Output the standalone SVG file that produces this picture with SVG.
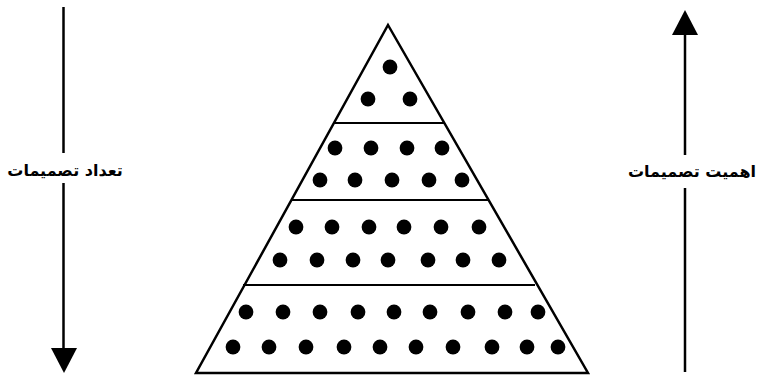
<svg xmlns="http://www.w3.org/2000/svg" width="762" height="380" viewBox="0 0 762 380">
<style>
.ln{stroke:#000;stroke-width:2.5;fill:none}
.dv{stroke:#000;stroke-width:2}
.d{fill:#000}
.lbl{font-family:"DejaVu Sans",sans-serif;font-size:16px;font-weight:bold;fill:#000;text-anchor:middle}
</style>
<defs>
<circle id="dot" r="7.4" class="d"/>
</defs>
<rect width="762" height="380" fill="#fff"/>
<g id="connectors">
<line class="ln" x1="63.5" y1="7" x2="63.5" y2="153"/>
<line class="ln" x1="63.5" y1="183" x2="63.5" y2="350"/>
<polygon points="51,348 77,348 64,373" fill="#000"/>
<line class="ln" x1="685" y1="33" x2="685" y2="155"/>
<line class="ln" x1="685" y1="188" x2="685" y2="372"/>
<polygon points="672,35 698,35 685,10" fill="#000"/>
</g>
<g id="label-left"><text class="lbl" x="65" y="176" direction="rtl" unicode-bidi="embed">تعداد تصمیمات</text></g>
<g id="label-right"><text class="lbl" x="692" y="177" direction="rtl" unicode-bidi="embed">اهمیت تصمیمات</text></g>
<g id="pyramid">
<polygon class="ln" points="388,25 588,373 196,373" stroke-linejoin="miter"/>
<line class="dv" x1="334" y1="123" x2="445" y2="123"/>
<line class="dv" x1="291" y1="200" x2="488" y2="200"/>
<line class="dv" x1="243" y1="285" x2="535" y2="285"/>
</g>
<g id="tier1">
<use href="#dot" x="390" y="67"/>
<use href="#dot" x="368" y="99"/>
<use href="#dot" x="410" y="99"/>
</g>
<g id="tier2">
<use href="#dot" x="335" y="148"/><use href="#dot" x="371" y="148"/><use href="#dot" x="407" y="148"/><use href="#dot" x="442" y="148"/>
<use href="#dot" x="320" y="180"/><use href="#dot" x="355" y="180"/><use href="#dot" x="392" y="180"/><use href="#dot" x="429" y="180"/><use href="#dot" x="462" y="180"/>
</g>
<g id="tier3">
<use href="#dot" x="296" y="227"/><use href="#dot" x="332" y="227"/><use href="#dot" x="369" y="227"/><use href="#dot" x="404" y="227"/><use href="#dot" x="441" y="227"/><use href="#dot" x="479" y="227"/>
<use href="#dot" x="280" y="260"/><use href="#dot" x="317" y="260"/><use href="#dot" x="353" y="260"/><use href="#dot" x="388" y="260"/><use href="#dot" x="428" y="260"/><use href="#dot" x="463" y="260"/><use href="#dot" x="499" y="260"/>
</g>
<g id="tier4">
<use href="#dot" x="246" y="312"/><use href="#dot" x="283" y="312"/><use href="#dot" x="320" y="312"/><use href="#dot" x="358" y="312"/><use href="#dot" x="394" y="312"/><use href="#dot" x="430" y="312"/><use href="#dot" x="468" y="312"/><use href="#dot" x="505" y="312"/><use href="#dot" x="538" y="312"/>
<use href="#dot" x="233" y="347"/><use href="#dot" x="269" y="347"/><use href="#dot" x="306" y="347"/><use href="#dot" x="344" y="347"/><use href="#dot" x="380" y="347"/><use href="#dot" x="416" y="347"/><use href="#dot" x="453" y="347"/><use href="#dot" x="492" y="347"/><use href="#dot" x="527" y="347"/><use href="#dot" x="558" y="347"/>
</g>
</svg>
